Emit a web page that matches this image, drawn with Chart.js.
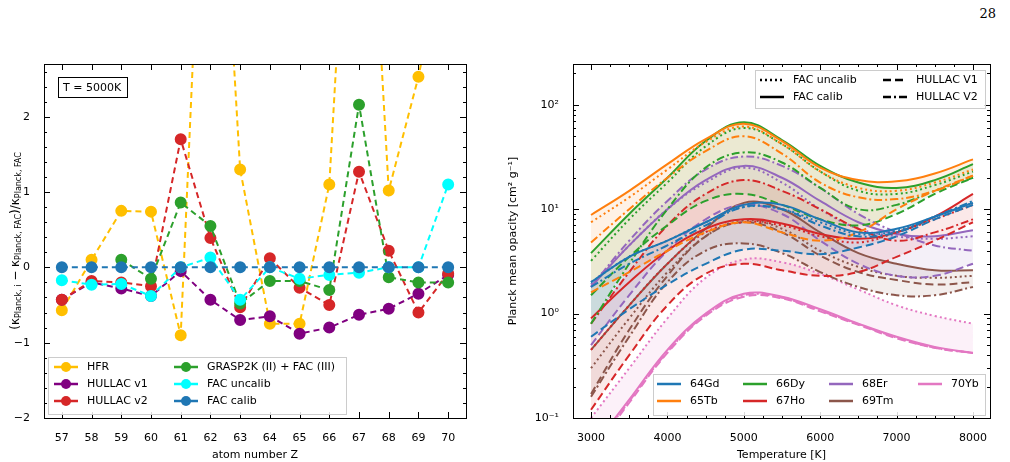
<!DOCTYPE html>
<html>
<head>
<meta charset="utf-8">
<script src="https://cdn.jsdelivr.net/npm/chart.js@4.4.1/dist/chart.umd.min.js"></script>
<style>
  body { margin: 0; background: #fff; }
  #page { position: relative; width: 1010px; height: 462px; font-family: "DejaVu Sans"; }
  .panel { position: absolute; top: 0; width: 505px; height: 462px; }
  #pageNo { position: absolute; right: 14px; top: 6px; font-family: "DejaVu Serif"; font-size: 13px; }
</style>
</head>
<body>
<div id="page">
  <div id="pageNo">28</div>
  <div class="panel" style="left:0"><canvas id="left" width="505" height="462" style="width:505px;height:462px"></canvas></div>
  <div class="panel" style="left:505px"><canvas id="right" width="505" height="462" style="width:505px;height:462px"></canvas></div>
</div>
<script>
/* ---------- Left panel data ---------- */
const atomZ = [57, 58, 59, 60, 61, 62, 63, 64, 65, 66, 67, 68, 69, 70];
const hfr = [-0.57, 0.1, 0.75, 0.74, -0.9, 8, 1.3, -0.75, -0.75, 1.1, 8, 1.02, 2.53, 4.5];
const hullacV1 = [-0.43, -0.2, -0.28, -0.38, -0.05, -0.43, -0.7, -0.65, -0.88, -0.8, -0.63, -0.55, -0.35, -0.1];
const hullacV2 = [-0.43, -0.18, -0.2, -0.25, 1.7, 0.39, -0.53, 0.12, -0.27, -0.5, 1.27, 0.22, -0.6, -0.08];
const grasp = [null, null, 0.1, -0.15, 0.86, 0.55, -0.48, -0.18, -0.18, -0.3, 2.16, -0.13, -0.2, -0.2];
const facUncalibZ = [-0.17, -0.23, -0.22, -0.38, 0, 0.13, -0.43, 0, -0.15, -0.1, -0.07, 0, 0, 1.1];
const facCalibZ = [0, 0, 0, 0, 0, 0, 0, 0, 0, 0, 0, 0, 0, 0];
const leftTicksX = [57, 58, 59, 60, 61, 62, 63, 64, 65, 66, 67, 68, 69, 70];
const leftTicksY = [-2, -1, 0, 1, 2];

/* ---------- Right panel data ---------- */
const temps = [3000, 3500, 4000, 4500, 5000, 5500, 6000, 6500, 7000, 7500, 8000];
const elements = ["64Gd", "65Tb", "66Dy", "67Ho", "68Er", "69Tm", "70Yb"];
const elementColors = ["#1f77b4", "#ff7f0e", "#2ca02c", "#d62728", "#9467bd", "#8c564b", "#e377c2"];
// per element: [FAC uncalib, FAC calib, HULLAC V1, HULLAC V2]
const gdOpacity = [
    [2, 3.5, 5, 7.5, 10.5, 10, 7.5, 5.8, 6.2, 8.5, 11.5],
    [2, 3.5, 5, 7.5, 11, 11, 8, 6, 6.5, 8.5, 11.5],
    [0.6, 1.1, 1.9, 3, 4.1, 4, 3.7, 4.3, 5.5, 8, 11],
    [1.8, 3, 4.5, 7, 10.5, 10, 7, 5.5, 6, 8.5, 12]
];
const tbOpacity = [
    [7.5, 13, 24, 44, 62, 42, 23, 16, 15, 18, 24],
    [8.8, 15, 27, 47, 66, 45, 25, 19, 18.5, 22, 30],
    [1.6, 2.5, 4, 6, 7.5, 6, 5, 6, 10, 15, 21],
    [4.8, 10, 20, 36, 50, 34, 18, 13, 12.5, 15, 21]
];
const dyOpacity = [
    [3.2, 8, 18, 40, 60, 42, 23, 15, 14, 17, 23],
    [3.8, 9, 20, 45, 68, 46, 26, 18, 16, 19, 27],
    [1.5, 3.5, 7, 12, 14, 11, 8, 7, 9, 14, 20],
    [0.8, 3, 10, 25, 35, 28, 16, 10, 11, 15, 20]
];
const hoOpacity = [
    [0.45, 1.2, 3, 6, 7.5, 7, 5.5, 4.8, 6, 8, 11],
    [0.9, 2, 4, 6.5, 8, 7.3, 5.8, 5.2, 6, 8.5, 14],
    [0.12, 0.4, 1.2, 2.4, 3, 2.6, 2.3, 2.5, 3.5, 5, 7.5],
    [0.8, 2.5, 7, 14, 19, 15, 10, 6.5, 5, 6, 8]
];
const erOpacity = [
    [1.9, 4.5, 10, 18, 25, 18, 10, 6.5, 5.5, 5.2, 5.5],
    [1.8, 4.5, 10, 19, 26, 20, 12, 7.5, 5.8, 5.5, 6.3],
    [0.5, 1.5, 4, 8, 11, 9, 5, 3, 2.3, 2.3, 3],
    [1.8, 5, 12, 24, 32, 26, 16, 9, 6, 4.5, 4]
];
const tmOpacity = [
    [0.3, 0.9, 2.5, 5.5, 7.8, 6.5, 4, 2.8, 2.3, 2.2, 2.3],
    [0.45, 1.2, 3, 6.5, 11.5, 10, 6, 3.8, 3, 2.6, 2.6],
    [0.17, 0.7, 2.3, 5.5, 7.5, 6, 3.6, 2.5, 2.1, 1.9, 2],
    [0.16, 0.6, 2, 4, 4.7, 3.8, 2.5, 1.8, 1.5, 1.5, 1.8]
];
const ybOpacity = [
    [0.1, 0.3, 0.9, 2.2, 3.3, 3.1, 2.4, 1.7, 1.2, 0.95, 0.8],
    [0.05, 0.15, 0.45, 1.0, 1.55, 1.45, 1.1, 0.8, 0.6, 0.48, 0.42],
    [0.045, 0.14, 0.42, 0.95, 1.45, 1.4, 1.05, 0.78, 0.58, 0.47, 0.42],
    [0.048, 0.145, 0.43, 0.97, 1.5, 1.42, 1.07, 0.79, 0.59, 0.47, 0.42]
];
const allOpacity = [gdOpacity, tbOpacity, dyOpacity, hoOpacity, erOpacity, tmOpacity, ybOpacity];
const rightTicksX = [3000, 4000, 5000, 6000, 7000, 8000];
const rightTicksY = [0.1, 1, 10, 100];

const styleNames = ["FAC uncalib", "FAC calib", "HULLAC V1", "HULLAC V2"];
const styleDashes = [[2, 3], [], [8, 4], [8, 3, 2, 3]];

Chart.defaults.font.family = "DejaVu Sans";
Chart.defaults.font.size = 11;
Chart.defaults.color = "#000";
Chart.defaults.animation = false;
Chart.defaults.devicePixelRatio = 1;

function hexAlpha(hex, a) {
    const n = parseInt(hex.slice(1), 16);
    return `rgba(${n >> 16},${(n >> 8) & 255},${n & 255},${a})`;
}

/* ---------- Inward ticks on all four sides ---------- */
function drawFrameTicks(chart, xMajor, xMinor, yMajor, yMinor) {
    const { ctx, chartArea: a, scales } = chart;
    ctx.save();
    ctx.strokeStyle = "#000";
    ctx.lineWidth = 1;
    const tick = (len, vals, axis) => {
        vals.forEach(v => {
            ctx.beginPath();
            if (axis === "x") {
                const p = Math.round(scales.x.getPixelForValue(v)) + 0.5;
                if (p < a.left || p > a.right) return;
                ctx.moveTo(p, a.bottom); ctx.lineTo(p, a.bottom - len);
                ctx.moveTo(p, a.top); ctx.lineTo(p, a.top + len);
            } else {
                const p = Math.round(scales.y.getPixelForValue(v)) + 0.5;
                if (p < a.top || p > a.bottom) return;
                ctx.moveTo(a.left, p); ctx.lineTo(a.left + len, p);
                ctx.moveTo(a.right, p); ctx.lineTo(a.right - len, p);
            }
            ctx.stroke();
        });
    };
    tick(6, xMajor, "x"); tick(3, xMinor, "x");
    tick(6, yMajor, "y"); tick(3, yMinor, "y");
    ctx.strokeRect(a.left + 0.5, a.top + 0.5, a.right - a.left, a.bottom - a.top);
    ctx.restore();
}

function legendLine(ctx, x, y, color, dash, marker) {
    ctx.save();
    ctx.strokeStyle = color;
    ctx.lineWidth = 2.5;
    ctx.setLineDash(dash);
    ctx.beginPath(); ctx.moveTo(x, y); ctx.lineTo(x + 24, y); ctx.stroke();
    if (marker) {
        ctx.fillStyle = color;
        ctx.beginPath(); ctx.arc(x + 12, y, 5, 0, Math.PI * 2); ctx.fill();
    }
    ctx.restore();
}

function legendBox(ctx, x, y, w, h) {
    ctx.save();
    ctx.fillStyle = "rgba(255,255,255,0.85)";
    ctx.strokeStyle = "#ccc";
    ctx.fillRect(x, y, w, h);
    ctx.strokeRect(x + 0.5, y + 0.5, w, h);
    ctx.restore();
}

/* ---------- Left chart ---------- */
const leftSeries = [
    ["HFR", hfr, "#ffbf00"],
    ["HULLAC v1", hullacV1, "#800080"],
    ["HULLAC v2", hullacV2, "#d62728"],
    ["GRASP2K (II) + FAC (III)", grasp, "#2ca02c"],
    ["FAC uncalib", facUncalibZ, "#00ffff"],
    ["FAC calib", facCalibZ, "#1f77b4"]
];

const leftDecor = {
    id: "leftDecor",
    afterDraw(chart) {
        const ctx = chart.ctx;
        const minorY = [];
        for (let v = -2; v <= 2.7; v += 0.2) minorY.push(Math.round(v * 10) / 10);
        drawFrameTicks(chart, leftTicksX, [], leftTicksY, minorY);

        // T box
        ctx.save();
        ctx.fillStyle = "#fff";
        ctx.fillRect(58, 77, 69, 20);
        ctx.strokeStyle = "#000";
        ctx.strokeRect(58.5, 77.5, 69, 20);
        ctx.fillStyle = "#000";
        ctx.font = "11px 'DejaVu Sans'";
        ctx.textBaseline = "middle";
        ctx.fillText("T = 5000K", 63, 88);
        ctx.restore();

        // legend
        legendBox(ctx, 48, 357, 298, 57);
        ctx.save();
        ctx.font = "11px 'DejaVu Sans'";
        ctx.textBaseline = "middle";
        leftSeries.forEach(([name, , color], i) => {
            const col = Math.floor(i / 3), row = i % 3;
            const x = col === 0 ? 54 : 174, y = 367 + row * 17;
            legendLine(ctx, x, y, color, [], true);
            ctx.fillStyle = "#000";
            ctx.fillText(name, x + 33, y);
        });

        // y axis title with subscripts
        ctx.translate(16, 241);
        ctx.rotate(-Math.PI / 2);
        const parts = [["(κ", 12, 0], ["Planck, i", 8, 3], [" − κ", 12, 0], ["Planck, FAC", 8, 3],
                       [")/κ", 12, 0], ["Planck, FAC", 8, 3]];
        let w = 0;
        parts.forEach(([t, s]) => { ctx.font = `${s}px 'DejaVu Sans'`; w += ctx.measureText(t).width; });
        let px = -w / 2;
        parts.forEach(([t, s, dy]) => {
            ctx.font = `${s}px 'DejaVu Sans'`;
            ctx.fillText(t, px, dy);
            px += ctx.measureText(t).width;
        });
        ctx.restore();
    }
};

new Chart(document.getElementById("left"), {
    type: "line",
    data: {
        datasets: leftSeries.map(([name, vals, color], i) => ({
            label: name,
            data: atomZ.map((z, j) => ({ x: z, y: vals[j] })),
            borderColor: color,
            backgroundColor: color,
            borderWidth: 2,
            borderDash: [6, 4],
            pointRadius: 5,
            pointHoverRadius: 5,
            spanGaps: false,
            order: leftSeries.length - i
        }))
    },
    options: {
        responsive: false,
        layout: { padding: { top: 64, right: 39, left: 0, bottom: 0 } },
        plugins: { legend: { display: false }, tooltip: { enabled: false } },
        scales: {
            x: {
                type: "linear", min: 56.4, max: 70.6,
                afterBuildTicks: s => { s.ticks = leftTicksX.map(v => ({ value: v })); },
                afterFit: s => { s.height = 44; },
                grid: { display: false },
                border: { display: false },
                ticks: { padding: 6, maxRotation: 0 },
                title: { display: true, text: "atom number Z", padding: 0 }
            },
            y: {
                min: -2, max: 2.7,
                afterBuildTicks: s => { s.ticks = leftTicksY.map(v => ({ value: v })); },
                afterFit: s => { s.width = 44; },
                grid: { display: false },
                border: { display: false },
                ticks: { padding: 6, callback: v => (v < 0 ? "−" + Math.abs(v) : String(v)) }
            }
        }
    },
    plugins: [leftDecor]
});

/* ---------- Right chart ---------- */
const rightDatasets = [];
allOpacity.forEach((sets, e) => {
    const color = elementColors[e];
    const hi = temps.map((t, i) => Math.max(...sets.map(s => s[i])));
    const lo = temps.map((t, i) => Math.min(...sets.map(s => s[i])));
    const bandIndex = rightDatasets.length;
    rightDatasets.push({
        data: temps.map((t, i) => ({ x: t, y: hi[i] })),
        borderWidth: 0, pointRadius: 0, tension: 0.4,
        backgroundColor: hexAlpha(color, 0.1),
        fill: bandIndex + 1, order: 10
    });
    rightDatasets.push({
        data: temps.map((t, i) => ({ x: t, y: lo[i] })),
        borderWidth: 0, pointRadius: 0, tension: 0.4, fill: false, order: 10
    });
    sets.forEach((vals, k) => {
        rightDatasets.push({
            label: elements[e] + " " + styleNames[k],
            data: temps.map((t, i) => ({ x: t, y: vals[i] })),
            borderColor: color,
            borderWidth: 2,
            borderDash: styleDashes[k],
            pointRadius: 0,
            tension: 0.4,
            fill: false,
            order: 1
        });
    });
});

const rightDecor = {
    id: "rightDecor",
    afterDraw(chart) {
        const ctx = chart.ctx;
        const minorX = [];
        for (let v = 2750; v <= 8250; v += 250) if (v % 1000) minorX.push(v);
        const minorY = [];
        [0.1, 1, 10, 100].forEach(d => { for (let m = 2; m <= 9; m++) minorY.push(d * m); });
        drawFrameTicks(chart, rightTicksX, minorX, rightTicksY, minorY);

        ctx.save();
        ctx.font = "11px 'DejaVu Sans'";
        ctx.textBaseline = "middle";
        // style legend (top right)
        legendBox(ctx, 250, 70, 230, 38);
        styleNames.forEach((name, k) => {
            const col = k < 2 ? 0 : 1, row = k % 2;
            const x = col === 0 ? 255 : 378, y = 80 + row * 17;
            legendLine(ctx, x, y, "#000", styleDashes[k], false);
            ctx.fillStyle = "#000";
            ctx.fillText(name, x + 33, y);
        });
        // element legend (bottom)
        legendBox(ctx, 148, 374, 332, 41);
        const colX = [152, 238, 324, 413];
        elements.forEach((name, e) => {
            const col = Math.floor(e / 2), row = e % 2;
            const x = colX[col], y = 384 + row * 17;
            legendLine(ctx, x, y, elementColors[e], [], false);
            ctx.fillStyle = "#000";
            ctx.fillText(name, x + 33, y);
        });
        ctx.restore();
    }
};

const superscripts = { "-1": "10⁻¹", "0": "10⁰", "1": "10¹", "2": "10²" };

new Chart(document.getElementById("right"), {
    type: "line",
    data: { datasets: rightDatasets },
    options: {
        responsive: false,
        layout: { padding: { top: 64, right: 20, left: 0, bottom: 0 } },
        plugins: { legend: { display: false }, tooltip: { enabled: false }, filler: { propagate: false } },
        scales: {
            x: {
                type: "linear", min: 2764, max: 8223,
                afterBuildTicks: s => { s.ticks = rightTicksX.map(v => ({ value: v })); },
                afterFit: s => { s.height = 44; },
                grid: { display: false },
                border: { display: false },
                ticks: { padding: 6, maxRotation: 0, callback: v => String(v) },
                title: { display: true, text: "Temperature [K]", padding: 0 }
            },
            y: {
                type: "logarithmic", min: 0.1, max: 246,
                afterBuildTicks: s => { s.ticks = rightTicksY.map(v => ({ value: v })); },
                afterFit: s => { s.width = 68; },
                grid: { display: false },
                border: { display: false },
                ticks: { padding: 6, callback: v => superscripts[String(Math.round(Math.log10(v)))] },
                title: { display: true, text: "Planck mean opacity [cm² g⁻¹]", padding: 2 }
            }
        }
    },
    plugins: [rightDecor]
});
</script>
</body>
</html>
